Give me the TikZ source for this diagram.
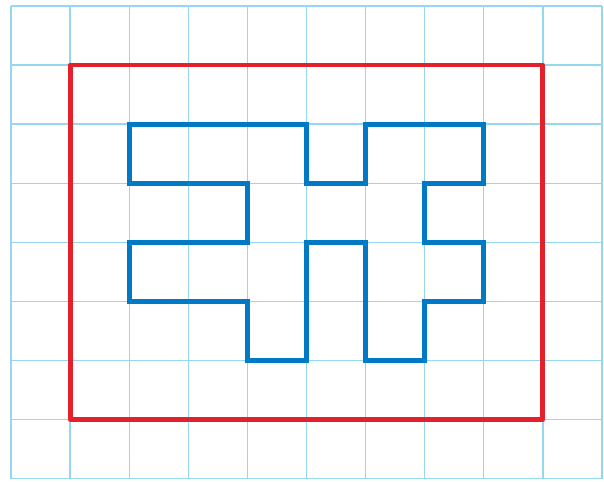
\documentclass[tikz,border=0pt]{standalone}
\usepackage{tikz}
\definecolor{gridblue}{RGB}{150,215,240}
\definecolor{framered}{RGB}{228,32,44}
\definecolor{shapeblue}{RGB}{0,122,196}
\tikzset{
  gridline/.style={draw=gridblue, line width=0.6pt},
  frameline/.style={draw=framered, line width=2.4pt, line join=round},
  shapeline/.style={draw=shapeblue, line width=2.4pt, line join=miter}
}
\begin{document}
\begin{tikzpicture}[x=1cm, y=1cm]
      \useasboundingbox (-0.186,-0.05) rectangle (10.034,8.10);
      \fill[white] (-0.186,-0.05) rectangle (10.034,8.10);
      % squared paper
      \foreach \x in {0,...,10}
        \draw[gridline] (\x,0) -- (\x,8);
      \foreach \y in {0,...,8}
        \draw[gridline] (0,\y) -- (10,\y);

      \draw[frameline] (1,1) rectangle (9,7);

      \draw[shapeline] (2,6) -- (5,6) -- (5,5) -- (6,5) -- (6,6) -- (8,6)
        -- (8,5) -- (7,5) -- (7,4) -- (8,4) -- (8,3) -- (7,3) -- (7,2)
        -- (6,2) -- (6,4) -- (5,4) -- (5,2) -- (4,2) -- (4,3) -- (2,3)
        -- (2,4) -- (4,4) -- (4,5) -- (2,5) -- cycle;
\end{tikzpicture}
\end{document}
